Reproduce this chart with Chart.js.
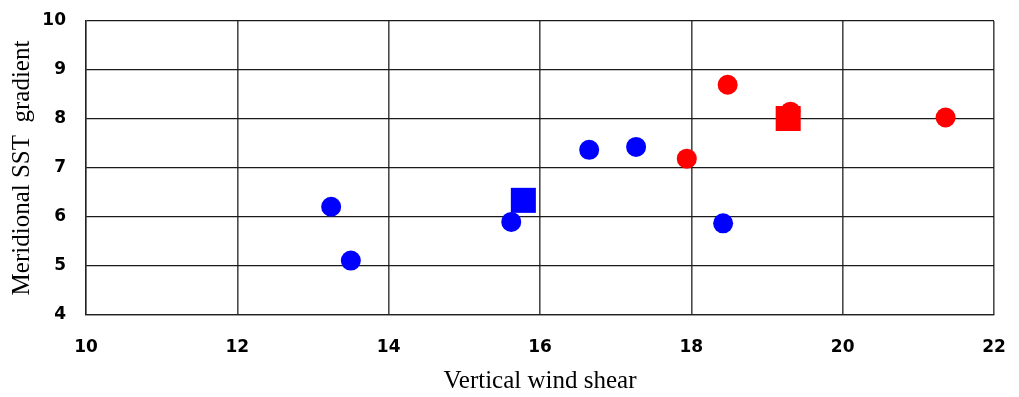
<!DOCTYPE html>
<html>
<head>
<meta charset="utf-8">
<title>Vertical wind shear vs meridional SST gradient</title>
<script src="https://cdn.jsdelivr.net/npm/chart.js@4.4.1/dist/chart.umd.min.js"></script>
<style>
  html, body { margin: 0; padding: 0; background: #ffffff; }
  #wrap { position: relative; width: 1019px; height: 397px; }
</style>
</head>
<body>
<div id="wrap"><canvas id="chart"></canvas></div>
<script>
// Individual cases (circles) and group means (squares)
const blueShear = [13.24, 13.50, 15.62, 16.65, 17.27, 18.42];
const blueSST   = [6.21, 5.11, 5.90, 7.37, 7.43, 5.87];
const blueMeanShear = [15.78];
const blueMeanSST   = [6.34];

const redShear = [17.94, 18.48, 19.31, 21.36];
const redSST   = [7.19, 8.70, 8.15, 8.03];
const redMeanShear = [19.28];
const redMeanSST   = [8.01];

const xTicks = [10, 12, 14, 16, 18, 20, 22];
const yTicks = [4, 5, 6, 7, 8, 9, 10];

const xTitle = 'Vertical wind shear';
const yTitle = 'Meridional SST  gradient';

function pairs(xs, ys) {
  return xs.map((x, i) => ({ x: x, y: ys[i] }));
}

const tickFont = { family: '"DejaVu Sans", sans-serif', size: 17, weight: 'bold' };
const titleFont = { family: '"Liberation Serif", "Times New Roman", serif', size: 25, lineHeight: 1 };

new Chart(document.getElementById('chart'), {
  type: 'scatter',
  data: {
    datasets: [
      { label: 'blue mean', data: pairs(blueMeanShear, blueMeanSST), pointStyle: 'rect',
        backgroundColor: '#0000ff', borderColor: '#0000ff', borderWidth: 0, pointRadius: 17.7, order: 2 },
      { label: 'blue', data: pairs(blueShear, blueSST), pointStyle: 'circle',
        backgroundColor: '#0000ff', borderColor: '#0000ff', borderWidth: 0, pointRadius: 10, order: 1 },
      { label: 'red', data: pairs(redShear, redSST), pointStyle: 'circle',
        backgroundColor: '#ff0000', borderColor: '#ff0000', borderWidth: 0, pointRadius: 10, order: 4 },
      { label: 'red mean', data: pairs(redMeanShear, redMeanSST), pointStyle: 'rect',
        backgroundColor: '#ff0000', borderColor: '#ff0000', borderWidth: 0, pointRadius: 17.7, order: 3 }
    ]
  },
  options: {
    responsive: true,
    maintainAspectRatio: false,
    animation: false,
    layout: { padding: { left: 0, right: 25, top: 21, bottom: 0 } },
    plugins: { legend: { display: false }, tooltip: { enabled: false } },
    elements: { point: { hoverRadius: 10 } },
    scales: {
      x: {
        type: 'linear',
        min: xTicks[0],
        max: xTicks[xTicks.length - 1],
        afterBuildTicks: (s) => { s.ticks = xTicks.map(v => ({ value: v })); },
        afterFit: (s) => { s.height = 82; s.paddingLeft = 0; s.paddingRight = 0; },
        grid: { color: '#4a4a4a', lineWidth: 1.6, drawTicks: false },
        border: { display: true, color: '#222222', width: 1.3 },
        ticks: { color: '#000000', font: tickFont, padding: 22, maxRotation: 0 },
        title: { display: true, text: xTitle, color: '#000000', font: titleFont, padding: { top: 0, bottom: 3 } }
      },
      y: {
        type: 'linear',
        min: yTicks[0],
        max: yTicks[yTicks.length - 1],
        afterBuildTicks: (s) => { s.ticks = yTicks.map(v => ({ value: v })); },
        afterFit: (s) => { s.width = 86; s.paddingTop = 0; s.paddingBottom = 0; },
        grid: { color: '#1a1a1a', lineWidth: 1.3, drawTicks: false },
        border: { display: true, color: '#222222', width: 1.3 },
        ticks: { color: '#000000', font: tickFont, padding: 20 },
        title: { display: true, text: yTitle, color: '#000000', font: titleFont, padding: { top: 10, bottom: 0 } }
      }
    }
  }
});
</script>
</body>
</html>
